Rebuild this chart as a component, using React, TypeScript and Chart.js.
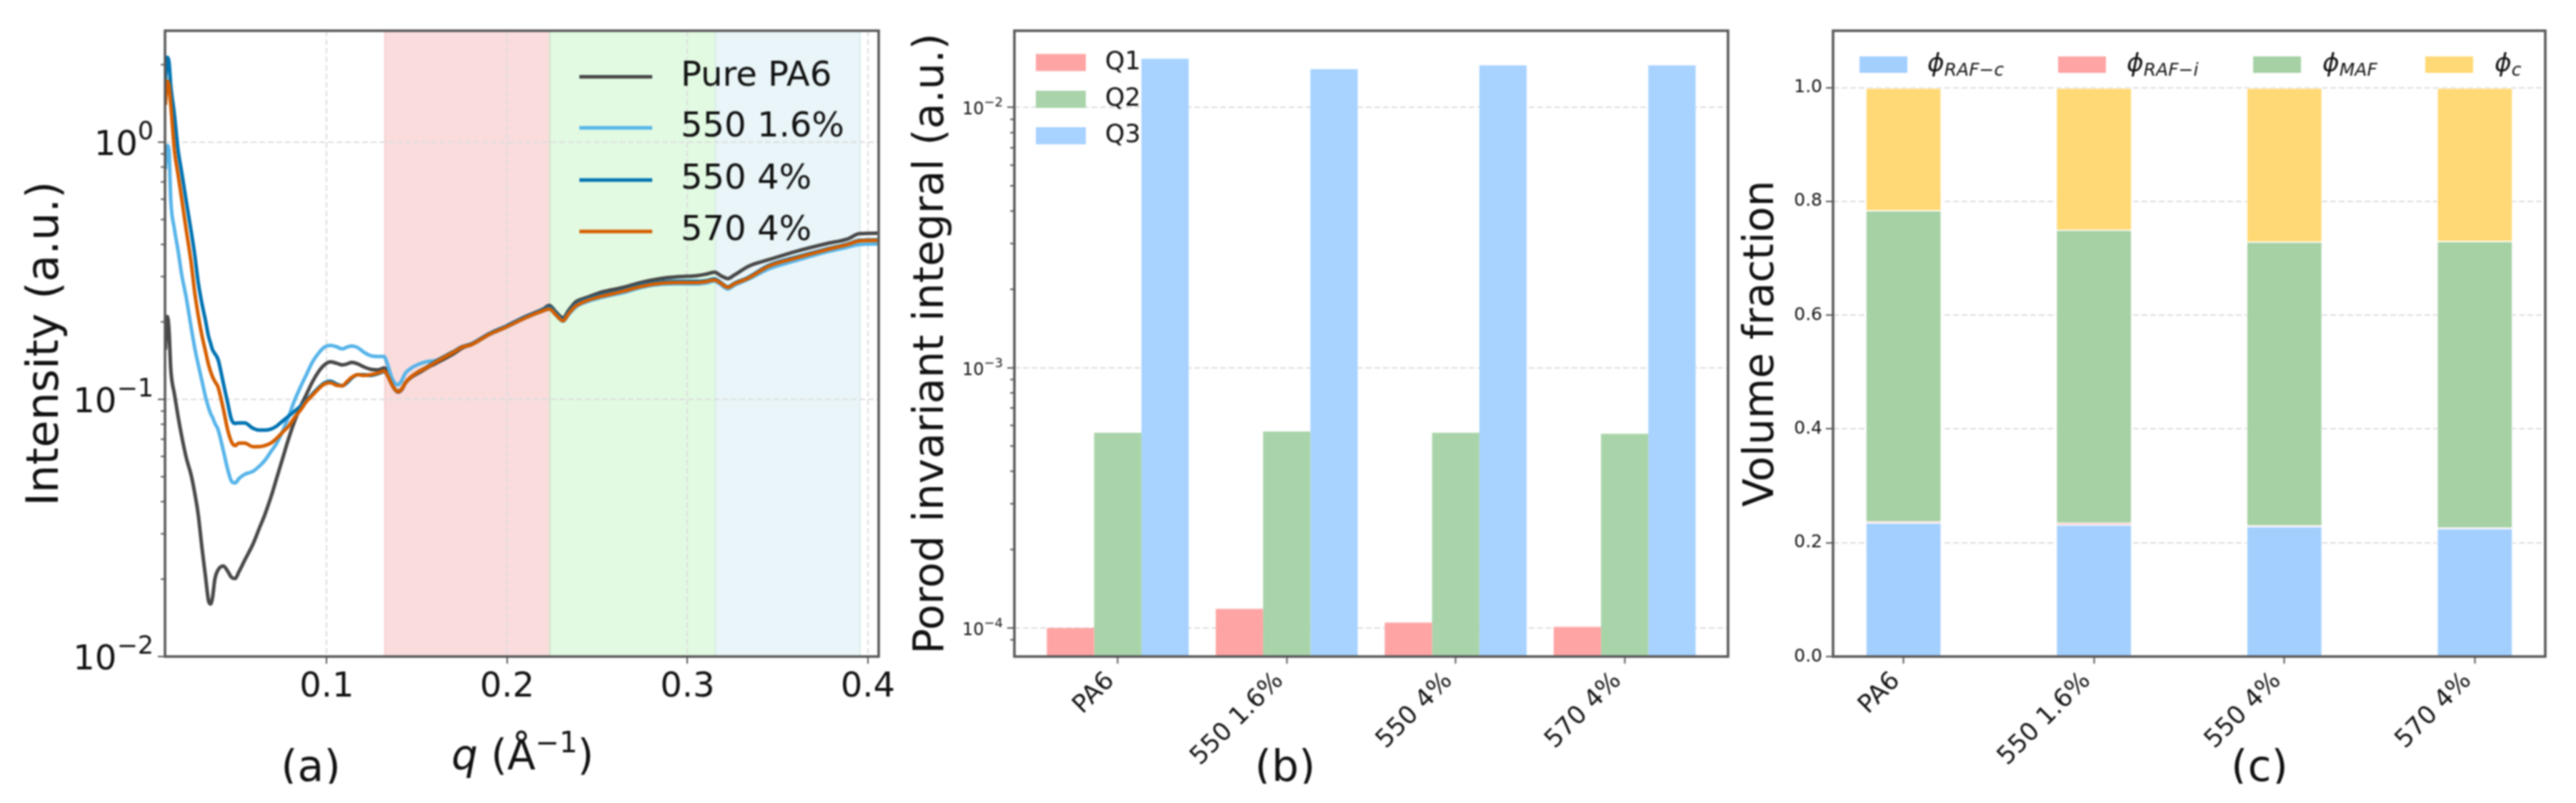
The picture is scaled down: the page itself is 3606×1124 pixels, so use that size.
import { useEffect, useRef } from "react"
import { Chart, registerables } from "chart.js"

Chart.register(...registerables)

const FONT = '"DejaVu Sans"'
Chart.defaults.font.family = FONT
Chart.defaults.color = "#111"

// (a) scattering curves
const qValues = [
  0.0105, 0.0116, 0.0125, 0.0135, 0.0155, 0.0175, 0.0195, 0.0221, 0.0248, 0.0267,
  0.0287, 0.0307, 0.0327, 0.0344, 0.0356, 0.0366, 0.038, 0.0397, 0.0426, 0.045,
  0.0472, 0.0492, 0.0512, 0.0545, 0.0591, 0.0624, 0.0657, 0.069, 0.0723, 0.0756,
  0.0789, 0.0822, 0.0855, 0.0888, 0.0921, 0.0954, 0.0987, 0.102, 0.1053, 0.1086,
  0.1112, 0.1139, 0.1172, 0.1205, 0.1244, 0.1284, 0.1317, 0.1337, 0.1356, 0.1376,
  0.1396, 0.1416, 0.1436, 0.1469, 0.1508, 0.1561,
  0.16, 0.17, 0.175, 0.18, 0.19, 0.2, 0.21, 0.22, 0.2234, 0.227,
  0.231, 0.234, 0.238, 0.244, 0.252, 0.264, 0.275, 0.285, 0.295, 0.305,
  0.31, 0.315, 0.3185, 0.3224, 0.326, 0.334, 0.3448, 0.3606, 0.3763, 0.389, 0.3953, 0.4054,
]
const purePA6 = [
  0.156, 0.21, 0.186, 0.1308, 0.1049, 0.0861, 0.0722, 0.0592, 0.0507, 0.0435,
  0.0357, 0.0268, 0.0206, 0.0165, 0.016, 0.0169, 0.0201, 0.0217, 0.0225, 0.0215,
  0.0203, 0.0201, 0.0213, 0.0237, 0.0274, 0.0313, 0.0357, 0.0416, 0.0496, 0.0592,
  0.0706, 0.0824, 0.094, 0.1049, 0.1172, 0.128, 0.1361, 0.1398, 0.1382, 0.1361,
  0.1373, 0.1391, 0.1373, 0.1337, 0.1308, 0.1302, 0.1323, 0.1294, 0.1172, 0.1097,
  0.1068, 0.1092, 0.1159, 0.1219, 0.1265, 0.1331,
  0.1374, 0.1499, 0.1581, 0.1633, 0.1797, 0.1933, 0.2096, 0.2244, 0.2317, 0.2187,
  0.2073, 0.2211, 0.2392, 0.2485, 0.2605, 0.2719, 0.2855, 0.2947, 0.2998, 0.3024,
  0.3063, 0.3122, 0.3024, 0.2947, 0.3043, 0.3296, 0.3486, 0.3767, 0.4018, 0.4207, 0.4406, 0.4426,
]
const s550_16 = [
  0.784, 0.97, 0.93, 0.594, 0.46, 0.38, 0.307, 0.2477, 0.1903, 0.1595,
  0.1367, 0.1185, 0.1027, 0.093, 0.088, 0.0852, 0.0806, 0.0763, 0.0633, 0.0536,
  0.048, 0.0473, 0.0491, 0.0511, 0.0525, 0.0548, 0.0579, 0.0626, 0.0676, 0.0754,
  0.0861, 0.0993, 0.1121, 0.1252, 0.1398, 0.151, 0.1595, 0.162, 0.1602, 0.1571,
  0.1595, 0.1613, 0.1588, 0.1526, 0.1477, 0.1467, 0.1467, 0.1367, 0.1238, 0.1159,
  0.1139, 0.1185, 0.1265, 0.1323, 0.1367, 0.1404,
  0.1413, 0.1529, 0.1595, 0.1625, 0.1782, 0.1913, 0.2069, 0.2207, 0.2244, 0.2127,
  0.201, 0.2132, 0.2282, 0.2392, 0.2485, 0.2594, 0.2729, 0.2798, 0.2813, 0.2806,
  0.2832, 0.288, 0.2787, 0.2684, 0.2776, 0.2935, 0.321, 0.347, 0.3733, 0.3908, 0.3999, 0.4018,
]
const s550_4 = [
  1.726, 2.136, 2.047, 1.654, 1.281, 0.936, 0.766, 0.587, 0.4495, 0.3679,
  0.285, 0.237, 0.2032, 0.1761, 0.1649, 0.156, 0.1503, 0.1429, 0.1159, 0.0972,
  0.0833, 0.0806, 0.081, 0.081, 0.0771, 0.0759, 0.0759, 0.0766, 0.0788, 0.0824,
  0.0861, 0.09, 0.094, 0.0993, 0.1049, 0.1109, 0.1159, 0.1177, 0.1147, 0.1129,
  0.1159, 0.1211, 0.1246, 0.1246, 0.1238, 0.1257, 0.128, 0.1238, 0.1159, 0.1097,
  0.1078, 0.1097, 0.1159, 0.1225, 0.128, 0.1343,
  0.14, 0.1529, 0.1602, 0.164, 0.1797, 0.1933, 0.2092, 0.2229, 0.2282, 0.2159,
  0.2038, 0.2173, 0.2332, 0.2443, 0.2539, 0.2648, 0.2787, 0.2855, 0.2874, 0.2874,
  0.2892, 0.2935, 0.2843, 0.2735, 0.2825, 0.2985, 0.331, 0.3575, 0.3825, 0.402, 0.415, 0.417,
]
const s570_4 = [
  1.395, 1.726, 1.654, 1.395, 0.93, 0.75, 0.605, 0.4535, 0.34, 0.262,
  0.2123, 0.1781, 0.1543, 0.1367, 0.128, 0.1225, 0.1172, 0.1116, 0.092, 0.0763,
  0.0683, 0.0661, 0.0676, 0.0676, 0.0654, 0.0654, 0.0661, 0.0676, 0.0706, 0.0746,
  0.0788, 0.0852, 0.091, 0.0982, 0.1038, 0.1097, 0.1147, 0.1159, 0.1134, 0.1129,
  0.1172, 0.1219, 0.1246, 0.1238, 0.1246, 0.1265, 0.1288, 0.1238, 0.1159, 0.1097,
  0.1073, 0.1097, 0.1159, 0.1225, 0.128, 0.1337,
  0.1391, 0.1522, 0.1595, 0.1629, 0.1786, 0.1917, 0.2073, 0.2211, 0.2249, 0.2132,
  0.2021, 0.215, 0.2307, 0.2417, 0.2512, 0.2627, 0.2754, 0.2825, 0.2843, 0.2843,
  0.2867, 0.291, 0.2825, 0.2725, 0.2813, 0.2966, 0.3285, 0.355, 0.3803, 0.3999, 0.413, 0.415,
]
const curveNames = ["Pure PA6", "550 1.6%", "550 4%", "570 4%"]
const curveColors = ["#484848", "#56B4E9", "#0072B2", "#D55E00"]
const qTicks = [0.1, 0.2, 0.3, 0.4]
const intensityDecades = [0.01, 0.1, 1]
const intensityExponents = ["−2", "−1", "0"]
const bandEdges = [0.1322, 0.2237, 0.3156, 0.3957]
const bandColors = ["#FADCDD", "#E2FAE2", "#E9F5F8"]
const bandEdgeColors = ["#F3CFD0", "#CFE6C8", "#DCEDEA"]

// (b) Porod invariant
const categories = ["PA6", "550 1.6%", "550 4%", "570 4%"]
const q1Values = [1.0e-4, 1.183e-4, 1.047e-4, 1.009e-4]
const q2Values = [5.62e-4, 5.68e-4, 5.62e-4, 5.57e-4]
const q3Values = [0.01538, 0.01405, 0.01451, 0.01451]
const porodDecades = [1e-4, 1e-3, 1e-2]
const porodExponents = ["−4", "−3", "−2"]

// (c) volume fractions
const rafC = [0.2356, 0.232, 0.2293, 0.2257]
const rafI = [0.002, 0.003, 0.001, 0.001]
const maf = [0.5466, 0.515, 0.499, 0.5035]
const phiC = [0.2158, 0.25, 0.2707, 0.2698]
const fractionTicks = [0, 0.2, 0.4, 0.6, 0.8, 1]

const GRID = "#DDDDDD"
const SPINE = "#555555"

const isDecade = (v: number) => Math.abs(Math.log10(v) - Math.round(Math.log10(v))) < 1e-6

// pin the axis box so the plot area lands where it should
const pinWidth = (w: number) => (s: any) => {
  s.width = w
  s.paddingTop = s.paddingBottom = s.paddingLeft = s.paddingRight = 0
}
const pinHeight = (h: number) => (s: any) => {
  s.height = h
  s.paddingTop = s.paddingBottom = s.paddingLeft = s.paddingRight = 0
}
const setTicks = (values: number[]) => (s: any) => {
  s.ticks = values.map((value) => ({ value }))
}
const keepLogTicks = (s: any) => {
  s.ticks = s.ticks.filter((t: any) => {
    const m = t.value / 10 ** Math.floor(Math.log10(t.value) + 1e-9)
    return Math.abs(m - Math.round(m)) < 1e-6
  })
}

function logAxis(title: string, titleSize: number, width: number, min: number, max: number) {
  return {
    type: "logarithmic",
    min,
    max,
    afterFit: pinWidth(width),
    afterBuildTicks: keepLogTicks,
    title: { display: true, text: title, font: { size: titleSize }, padding: 0, color: "#111" },
    ticks: { display: false, autoSkip: false },
    border: { display: false, dash: [8, 4] },
    grid: {
      lineWidth: 2,
      tickLength: 10,
      tickWidth: 2,
      tickColor: (c: any) => (c.tick && isDecade(c.tick.value) ? SPINE : "transparent"),
      color: (c: any) => (c.tick && isDecade(c.tick.value) ? GRID : "transparent"),
    },
  }
}

const framePlugin = {
  id: "frame",
  afterDraw(chart: any) {
    const { ctx, chartArea: a } = chart
    ctx.save()
    ctx.strokeStyle = SPINE
    ctx.lineWidth = 3.5
    ctx.strokeRect(a.left, a.top, a.right - a.left, a.bottom - a.top)
    const y = chart.scales.y
    if (y.type === "logarithmic") {
      ctx.lineWidth = 2
      for (const t of y.ticks) {
        if (isDecade(t.value)) continue
        const py = y.getPixelForValue(t.value)
        ctx.beginPath()
        ctx.moveTo(a.left - 6, py)
        ctx.lineTo(a.left, py)
        ctx.stroke()
      }
    }
    ctx.restore()
  },
}

const bandPlugin = {
  id: "bands",
  beforeDraw(chart: any) {
    const { ctx, chartArea: a, scales } = chart
    bandColors.forEach((color, i) => {
      const x0 = scales.x.getPixelForValue(bandEdges[i])
      const x1 = scales.x.getPixelForValue(bandEdges[i + 1])
      ctx.fillStyle = color
      ctx.fillRect(x0, a.top, x1 - x0, a.bottom - a.top)
      ctx.fillStyle = bandEdgeColors[i]
      ctx.fillRect(x0 - 1, a.top, 2, a.bottom - a.top)
      ctx.fillRect(x1 - 1, a.top, 2, a.bottom - a.top)
    })
  },
}

function panelLabel(ctx: any, text: string, x: number) {
  ctx.save()
  ctx.font = `60px ${FONT}`
  ctx.fillStyle = "#111"
  ctx.textAlign = "center"
  ctx.textBaseline = "alphabetic"
  ctx.fillText(text, x, 1093)
  ctx.restore()
}

// runs of text with their own font and baseline shift
function drawRuns(ctx: any, runs: [string, string, number][], x: number, y: number, alignRight = false) {
  ctx.save()
  ctx.fillStyle = "#111"
  ctx.textAlign = "left"
  ctx.textBaseline = "alphabetic"
  let cx = x
  if (alignRight) {
    for (const [text, font] of runs) {
      ctx.font = `${font} ${FONT}`
      cx -= ctx.measureText(text).width
    }
  }
  for (const [text, font, dy] of runs) {
    ctx.font = `${font} ${FONT}`
    ctx.fillText(text, cx, y + dy)
    cx += ctx.measureText(text).width
  }
  ctx.restore()
}

// mathtext-style 10^n labels at the log axis decades
const decadeLabels = (decades: number[], exponents: string[], size: number, supSize: number, drop: number, raise: number, gap: number) => ({
  id: "decadeLabels",
  afterDraw(chart: any) {
    const y = chart.scales.y
    decades.forEach((d, i) => {
      drawRuns(
        chart.ctx,
        [
          ["10", `${size}px`, 0],
          [exponents[i], `${supSize}px`, -raise],
        ],
        chart.chartArea.left - gap,
        y.getPixelForValue(d) + drop,
        true,
      )
    })
  },
})

const curveOverlay = {
  id: "curveOverlay",
  afterDraw(chart: any) {
    const { ctx } = chart
    curveNames.forEach((name, i) => {
      const y = [107.5, 179, 252, 324][i]
      ctx.save()
      ctx.strokeStyle = curveColors[i]
      ctx.lineWidth = 5
      ctx.beginPath()
      ctx.moveTo(811, y)
      ctx.lineTo(913, y)
      ctx.stroke()
      ctx.fillStyle = "#111"
      ctx.font = `48px ${FONT}`
      ctx.textBaseline = "middle"
      ctx.fillText(name, 953, y)
      ctx.restore()
    })
    panelLabel(ctx, "(a)", 435)
    drawRuns(
      ctx,
      [
        ["q", "italic 58px", 0],
        [" (Å", "58px", 0],
        ["−1", "40px", -24],
        [")", "58px", 0],
      ],
      632,
      1077,
    )
  },
}

const porodOverlay = {
  id: "porodOverlay",
  afterDraw(chart: any) {
    const { ctx } = chart
    chart.data.datasets.forEach((d: any, i: number) => {
      const y = [87.5, 139, 190][i]
      ctx.save()
      ctx.fillStyle = d.backgroundColor
      ctx.fillRect(1450, y - 12, 70, 24)
      ctx.fillStyle = "#111"
      ctx.font = `35px ${FONT}`
      ctx.textBaseline = "middle"
      ctx.fillText(d.label, 1547, y)
      ctx.restore()
    })
    panelLabel(ctx, "(b)", 1799)
  },
}

const phiSubs = ["RAF−c", "RAF−i", "MAF", "c"]
const fractionOverlay = {
  id: "fractionOverlay",
  afterDraw(chart: any) {
    const { ctx } = chart
    chart.data.datasets.forEach((d: any, i: number) => {
      ctx.save()
      ctx.fillStyle = d.backgroundColor
      ctx.fillRect([2603, 2881, 3154, 3395][i], 79, 67, 23)
      ctx.restore()
      drawRuns(
        ctx,
        [
          ["ϕ", "italic 36px", 0],
          [phiSubs[i], "italic 25px", 6],
        ],
        [2698, 2977, 3251, 3492][i],
        100,
      )
    })
    panelLabel(ctx, "(c)", 3163)
  },
}

const curveConfig = () => ({
  type: "scatter",
  data: {
    datasets: [purePA6, s550_16, s550_4, s570_4].map((values, i) => ({
      label: curveNames[i],
      data: values.map((y, k) => ({ x: qValues[k], y })),
      showLine: true,
      borderColor: curveColors[i],
      borderWidth: 5,
      pointRadius: 0,
      cubicInterpolationMode: "monotone",
      order: 3 - i, // later curves on top, as in the source
    })),
  },
  options: {
    layout: { padding: { left: 28, top: 43, right: 3606 - 1230, bottom: 0 } },
    scales: {
      x: {
        type: "linear",
        min: 0.0103,
        max: 0.406,
        afterFit: pinHeight(178),
        afterBuildTicks: setTicks(qTicks),
        ticks: { autoSkip: false, font: { size: 48 }, padding: 5, callback: (v: any) => Number(v).toFixed(1) },
        border: { display: false, dash: [8, 4] },
        grid: { color: GRID, lineWidth: 2, tickColor: SPINE, tickWidth: 2, tickLength: 10 },
      },
      y: logAxis("Intensity (a.u.)", 62, 203, 0.01, 2.71),
    },
  },
  plugins: [bandPlugin, framePlugin, curveOverlay, decadeLabels(intensityDecades, intensityExponents, 48, 35, 18, 22, 16)],
})

const categoryAxis = (min: number, max: number, stacked: boolean) => ({
  type: "linear",
  min,
  max,
  stacked,
  offset: false,
  afterFit: pinHeight(178),
  afterBuildTicks: setTicks([0, 1, 2, 3]),
  ticks: {
    autoSkip: false,
    font: { size: 35 },
    minRotation: 45,
    maxRotation: 45,
    padding: 4,
    labelOffset: -10,
    callback: (v: any) => categories[v] ?? "",
  },
  border: { display: false },
  grid: { offset: false, drawOnChartArea: false, tickColor: SPINE, tickWidth: 2, tickLength: 10 },
})

const barData = (values: number[]) => values.map((y, x) => ({ x, y }))

const porodConfig = () => ({
  type: "bar",
  data: {
    datasets: [
      { label: "Q1", data: barData(q1Values), backgroundColor: "#FFA4A4" },
      { label: "Q2", data: barData(q2Values), backgroundColor: "#A9D4A9" },
      { label: "Q3", data: barData(q3Values), backgroundColor: "#A8D2FF" },
    ].map((d) => ({ ...d, categoryPercentage: 0.84, barPercentage: 1, borderWidth: 0 })),
  },
  options: {
    layout: { padding: { left: 1269, top: 43, right: 3606 - 2419, bottom: 0 } },
    scales: {
      x: categoryAxis(-0.612, 3.612, false),
      y: logAxis("Porod invariant integral (a.u.)", 59, 151, 7.76e-5, 0.01972),
    },
  },
  plugins: [framePlugin, porodOverlay, decadeLabels(porodDecades, porodExponents, 24, 18, 10, 11, 16)],
})

const fractionConfig = () => ({
  type: "bar",
  data: {
    datasets: [
      { label: "RAF-c", data: barData(rafC), backgroundColor: "#A3CFFF" },
      { label: "RAF-i", data: barData(rafI), backgroundColor: "#FFA4A4" },
      { label: "MAF", data: barData(maf), backgroundColor: "#A5D1A5" },
      { label: "c", data: barData(phiC), backgroundColor: "#FFD975" },
    ].map((d) => ({ ...d, categoryPercentage: 0.4, barPercentage: 1, borderWidth: 1.5, borderColor: "#FFFFFFAA" })),
  },
  options: {
    layout: { padding: { left: 2432, top: 43, right: 3606 - 3563, bottom: 0 } },
    scales: {
      x: categoryAxis(-0.37, 3.37, true),
      y: {
        stacked: true,
        min: 0,
        max: 1.1,
        afterFit: pinWidth(134),
        afterBuildTicks: setTicks(fractionTicks),
        title: { display: true, text: "Volume fraction", font: { size: 58 }, padding: 0, color: "#111" },
        ticks: { autoSkip: false, font: { size: 25 }, padding: 5, callback: (v: any) => Number(v).toFixed(1) },
        border: { display: false, dash: [8, 4] },
        grid: { color: GRID, lineWidth: 2, tickColor: SPINE, tickWidth: 2, tickLength: 10 },
      },
    },
  },
  plugins: [framePlugin, fractionOverlay],
})

function Panel({ build }: { build: () => any }) {
  const canvasRef = useRef<HTMLCanvasElement>(null)

  useEffect(() => {
    if (!canvasRef.current) return
    const cfg = build()
    const chart = new Chart(canvasRef.current, {
      ...cfg,
      options: {
        ...cfg.options,
        animation: false,
        responsive: false,
        devicePixelRatio: 1,
        events: [],
        plugins: { legend: { display: false }, tooltip: { enabled: false } },
      },
    })
    return () => chart.destroy()
  }, [build])

  // the source image is cropped at 1097, so the canvas stops there too
  return <canvas ref={canvasRef} width={3606} height={1097} style={{ position: "absolute", left: 0, top: 0, filter: "blur(0.8px)" }} />
}

export default function App() {
  return (
    <div style={{ position: "absolute", left: 0, top: 0, width: 3606, height: 1124, background: "#fff", overflow: "hidden" }}>
      <Panel build={curveConfig} />
      <Panel build={porodConfig} />
      <Panel build={fractionConfig} />
    </div>
  )
}
